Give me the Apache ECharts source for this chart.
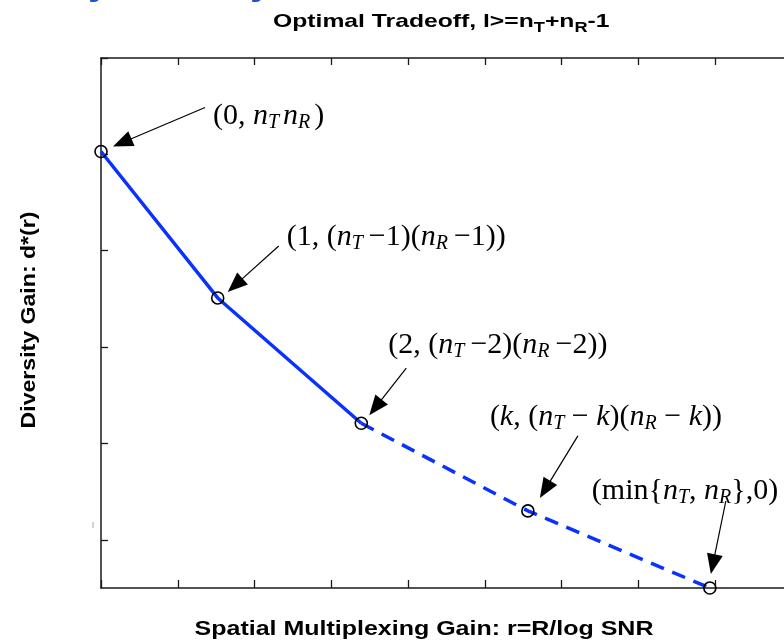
<!DOCTYPE html>
<html>
<head>
<meta charset="utf-8">
<script src="https://cdn.jsdelivr.net/npm/echarts@6/dist/echarts.min.js"></script>
<style>
  html, body { margin: 0; padding: 0; background: #fff; }
  #chart { width: 784px; height: 643px; }
</style>
</head>
<body>
<div id="chart"></div>
<script>
// Corner points of the optimal diversity-multiplexing tradeoff curve
const cornerR = [0, 1.52, 3.39, 5.56, 7.93];      // spatial multiplexing gain r
const cornerD = [4.53, 3.01, 1.71, 0.80, 0];      // diversity gain d*(r)
// Segments between the first three corners are solid, the rest dashed
const solidCount = 3;

// Axis ticks (no tick labels are shown)
const xTicks = [0, 1, 2, 3, 4, 5, 6, 7, 8, 9];
const yTicks = [0.5, 1.5, 2.5, 3.5, 4.5, 5.5];

// Labels for each corner point (rich text: r upright, i italic, s subscript)
const cornerLabels = [
  '{r|(0, }{i|n}{s|T\u2009}{i|n}{s|R\u2009}{r|)}',
  '{r|(1, (}{i|n}{s|T}{r|\u2009\u22121)(}{i|n}{s|R}{r|\u2009\u22121))}',
  '{r|(2, (}{i|n}{s|T}{r|\u2009\u22122)(}{i|n}{s|R}{r|\u2009\u22122))}',
  '{r|(}{i|k}{r|, (}{i|n}{s|T}{r| \u2212 }{i|k}{r|)(}{i|n}{s|R}{r| \u2212 }{i|k}{r|))}',
  '{r|(min{}{i|n}{s|T}{r|, }{i|n}{s|R}}{r|,0)}'
];

// Annotation placement, in pixels relative to each corner point
const labelOffset = [[112, -35], [69, -61], [27, -78], [-38, -94], [-118, -97]];
const arrowTail   = [[104, -44], [61, -52], [45, -55], [50, -75], [16, -87]];
const arrowTip    = [[12, -5], [10, -6], [8, -8], [12, -13], [1, -14]];

const SERIF = '"Liberation Serif", "Times New Roman", serif';
const SANS = '"Liberation Sans", Arial, Helvetica, sans-serif';
const BLUE = '#0a32ff';
const AXIS = '#1a1a1a';

const points = cornerR.map((r, i) => [r, cornerD[i]]);

const chart = echarts.init(document.getElementById('chart'), null, { renderer: 'canvas' });

const xAxisBase = {
  type: 'value',
  min: xTicks[0],
  max: xTicks[xTicks.length - 1],
  interval: 1,
  axisLine: { show: true, onZero: false, lineStyle: { color: AXIS, width: 1.5 } },
  axisTick: { show: true, inside: true, length: 8, lineStyle: { color: AXIS, width: 1.3 } },
  axisLabel: { show: false },
  splitLine: { show: false }
};

chart.setOption({
  animation: false,
  backgroundColor: '#fff',
  grid: { left: 101, top: 58, width: 691, height: 530, outerBoundsMode: 'none', containLabel: false },
  xAxis: [
    Object.assign({}, xAxisBase, { position: 'bottom' }),
    Object.assign({}, xAxisBase, { position: 'top', axisTick: Object.assign({}, xAxisBase.axisTick, { length: 7 }) })
  ],
  yAxis: {
    type: 'value',
    min: 0,
    max: yTicks[yTicks.length - 1],
    axisLine: { show: true, onZero: false, lineStyle: { color: AXIS, width: 1.5 } },
    axisTick: { show: true, inside: true, length: 7, customValues: yTicks, lineStyle: { color: AXIS, width: 1.3 } },
    axisLabel: { show: false },
    splitLine: { show: false }
  },
  series: [
    {
      type: 'line',
      data: points.slice(0, solidCount),
      showSymbol: false,
      lineStyle: { color: BLUE, width: 3.5 },
      z: 2
    },
    {
      type: 'line',
      data: points.slice(solidCount - 1),
      showSymbol: false,
      lineStyle: { color: BLUE, width: 3.5, type: [14, 9] },
      z: 2
    },
    {
      type: 'scatter',
      data: points,
      symbol: 'circle',
      symbolSize: 12,
      itemStyle: { color: 'rgba(0,0,0,0)', borderColor: '#000', borderWidth: 1.6, opacity: 1 },
      z: 3
    }
  ]
});

// Arrows and formula labels pointing at each corner point
const graphics = [];
points.forEach((p, i) => {
  const [px, py] = chart.convertToPixel({ gridIndex: 0 }, p);
  const tx = px + arrowTail[i][0], ty = py + arrowTail[i][1];
  const hx = px + arrowTip[i][0], hy = py + arrowTip[i][1];
  const dx = hx - tx, dy = hy - ty;
  const len = Math.hypot(dx, dy);
  const ux = dx / len, uy = dy / len;
  const headLen = 20, headHalf = 8;
  const bx = hx - ux * headLen, by = hy - uy * headLen;
  graphics.push({
    type: 'line',
    shape: { x1: tx, y1: ty, x2: bx + ux * 2, y2: by + uy * 2 },
    style: { stroke: '#000', lineWidth: 1.2 },
    z: 10
  });
  graphics.push({
    type: 'polygon',
    shape: { points: [[hx, hy], [bx - uy * headHalf, by + ux * headHalf], [bx + uy * headHalf, by - ux * headHalf]] },
    style: { fill: '#000' },
    z: 10
  });
  graphics.push({
    type: 'text',
    x: px + labelOffset[i][0],
    y: py + labelOffset[i][1],
    style: {
      text: cornerLabels[i],
      fontFamily: SERIF,
      fontSize: 30,
      fill: '#000',
      align: 'left',
      verticalAlign: 'middle',
      rich: {
        r: { fontFamily: SERIF, fontSize: 30 },
        i: { fontFamily: SERIF, fontSize: 30, fontStyle: 'italic' },
        s: { fontFamily: SERIF, fontSize: 20, fontStyle: 'italic', padding: [13, 0, 0, 0] }
      }
    },
    z: 10
  });
});

// Chart title with subscripts
graphics.push({
  type: 'text',
  x: 273,
  y: 22,
  scaleX: 1.3,
  style: {
    text: '{a|Optimal Tradeoff, l>=n}{b|T}{a|+n}{b|R}{a|-1}',
    fontFamily: SANS, fontWeight: 'bold', fontSize: 19, fill: '#000',
    align: 'left', verticalAlign: 'middle',
    rich: {
      a: { fontFamily: SANS, fontWeight: 'bold', fontSize: 19 },
      b: { fontFamily: SANS, fontWeight: 'bold', fontSize: 14, padding: [13, 0, 0, 0] }
    }
  }
});

// Axis titles
graphics.push({
  type: 'text',
  x: 424,
  y: 629,
  scaleX: 1.19,
  style: {
    text: 'Spatial Multiplexing Gain: r=R/log SNR',
    fontFamily: SANS, fontWeight: 'bold', fontSize: 21, fill: '#000',
    align: 'center', verticalAlign: 'middle'
  }
});
graphics.push({
  type: 'text',
  x: 29,
  y: 320,
  rotation: Math.PI / 2,
  scaleX: 1.1,
  style: {
    text: 'Diversity Gain: d*(r)',
    fontFamily: SANS, fontWeight: 'bold', fontSize: 21, fill: '#000',
    align: 'center', verticalAlign: 'middle'
  }
});

// Heading above the chart, mostly clipped by the top edge
graphics.push({
  type: 'text', x: 88, y: 3,
  style: { text: 'y', fontFamily: SANS, fontWeight: 'bold', fontSize: 40, fill: '#1f50d8', align: 'left', verticalAlign: 'bottom' }
});
graphics.push({
  type: 'text', x: 250, y: 3,
  style: { text: 'y', fontFamily: SANS, fontWeight: 'bold', fontSize: 40, fill: '#1f50d8', align: 'left', verticalAlign: 'bottom' }
});
// Faint leftover mark beside the left axis
graphics.push({
  type: 'line',
  shape: { x1: 93, y1: 522, x2: 93, y2: 528 },
  style: { stroke: '#aaa', lineWidth: 1 }
});

chart.setOption({ graphic: graphics });
</script>
</body>
</html>
